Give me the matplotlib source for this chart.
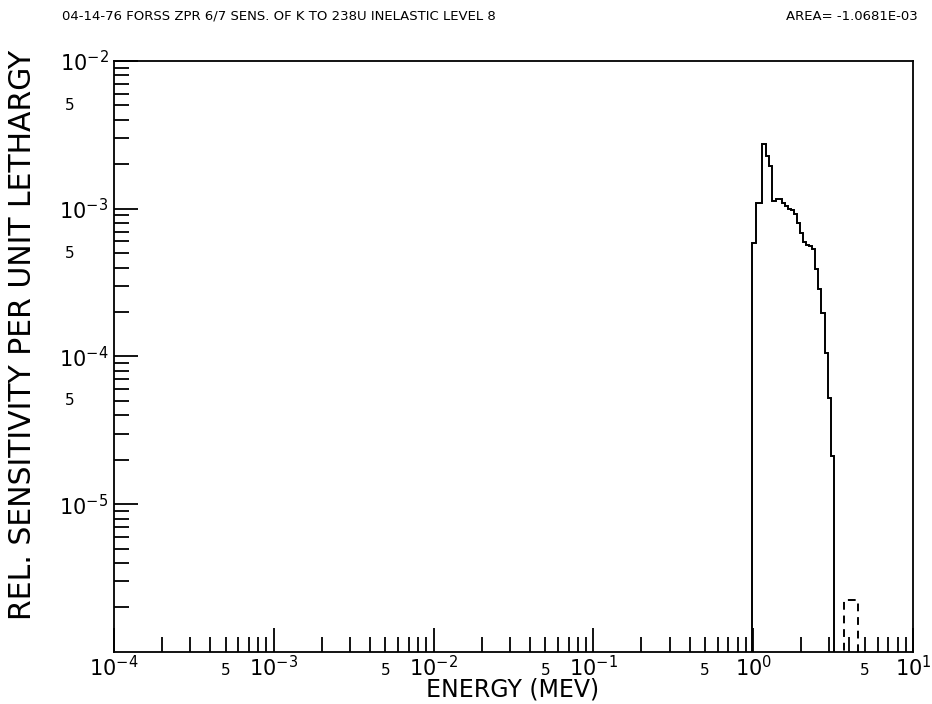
import numpy as np
import matplotlib
matplotlib.use('Agg')
import matplotlib.pyplot as plt
from matplotlib.ticker import FixedLocator, FixedFormatter, NullFormatter

# group boundaries (MeV) and sensitivity per unit lethargy
edges = [0.983, 1.041, 1.087, 1.135, 1.203, 1.256, 1.311, 1.389, 1.450, 1.515,
         1.581, 1.651, 1.724, 1.800, 1.880, 1.963, 2.049, 2.140, 2.234, 2.333,
         2.436, 2.544, 2.656, 2.814, 2.938, 3.068, 3.203]
sens = [5.90e-4, 1.10e-3, 1.10e-3, 2.73e-3, 2.26e-3, 1.94e-3, 1.12e-3, 1.17e-3,
        1.17e-3, 1.10e-3, 1.05e-3, 1.00e-3, 9.73e-4, 9.28e-4, 8.06e-4, 6.90e-4,
        5.99e-4, 5.72e-4, 5.63e-4, 5.37e-4, 3.93e-4, 2.87e-4, 1.97e-4, 1.06e-4,
        5.23e-5, 2.11e-5]
# negative part (drawn dashed, magnitude)
neg_edges = [3.70, 4.53]
neg_sens = [2.25e-6]

title_left = '04-14-76 FORSS ZPR 6/7 SENS. OF K TO 238U INELASTIC LEVEL 8'
title_right = 'AREA= -1.0681E-03'

fig = plt.figure(figsize=(9.32, 7.04), dpi=100)
ax = fig.add_axes([0.1223, 0.0739, 0.8573, 0.8395])
ax.set_xscale('log')
ax.set_yscale('log')
ax.set_xlim(1e-4, 1e1)
ax.set_ylim(1e-6, 1e-2)

ax.stairs(sens, edges, baseline=1e-8, color='black', linewidth=1.4)
ax.stairs(neg_sens, neg_edges, baseline=1e-8, color='black', linewidth=1.4,
          linestyle=(0, (4, 3)))

for s in ax.spines.values():
    s.set_linewidth(1.3)

# x ticks
xmaj = [1e-4, 1e-3, 1e-2, 1e-1, 1e0, 1e1]
xmin = [m * 10.0**e for e in range(-4, 1) for m in range(2, 10)]
ax.xaxis.set_major_locator(FixedLocator(xmaj))
ax.xaxis.set_major_formatter(FixedFormatter([r'$10^{-4}$', r'$10^{-3}$', r'$10^{-2}$',
                                             r'$10^{-1}$', r'$10^{0}$', r'$10^{1}$']))
ax.xaxis.set_minor_locator(FixedLocator(xmin))
ax.xaxis.set_minor_formatter(NullFormatter())

ymaj = [1e-5, 1e-4, 1e-3, 1e-2]
ymin = [m * 10.0**e for e in range(-6, -2) for m in range(2, 10)]
ax.yaxis.set_major_locator(FixedLocator(ymaj))
ax.yaxis.set_major_formatter(FixedFormatter([r'$10^{-5}$', r'$10^{-4}$', r'$10^{-3}$', r'$10^{-2}$']))
ax.yaxis.set_minor_locator(FixedLocator(ymin))
ax.yaxis.set_minor_formatter(NullFormatter())

ax.tick_params(which='major', direction='in', length=17, width=1.3, labelsize=15, pad=4)
ax.tick_params(which='minor', direction='in', length=11, width=1.3)
ax.tick_params(axis='x', which='major', pad=2)

# "5" labels at 5x10^n
for e in range(-4, 1):
    ax.text(5 * 10.0**e, -0.018, '5', transform=ax.get_xaxis_transform(),
            ha='center', va='top', fontsize=11)
for e in range(-5, -2):
    ax.text(-0.055, 5 * 10.0**e, '5', transform=ax.get_yaxis_transform(),
            ha='center', va='center', fontsize=11)

fig.text(513 / 932, 1 - 690 / 704, 'ENERGY (MEV)', ha='center', va='center', fontsize=17)
fig.text(23 / 932, 1 - 335 / 704, 'REL. SENSITIVITY PER UNIT LETHARGY', ha='center',
         va='center', rotation=90, fontsize=21.5)

fig.text(62 / 932, 1 - 16 / 704, title_left, ha='left', va='center', fontsize=9.5)
fig.text(918 / 932, 1 - 16 / 704, title_right, ha='right', va='center', fontsize=9.5)

fig.savefig('out.png', dpi=100)
